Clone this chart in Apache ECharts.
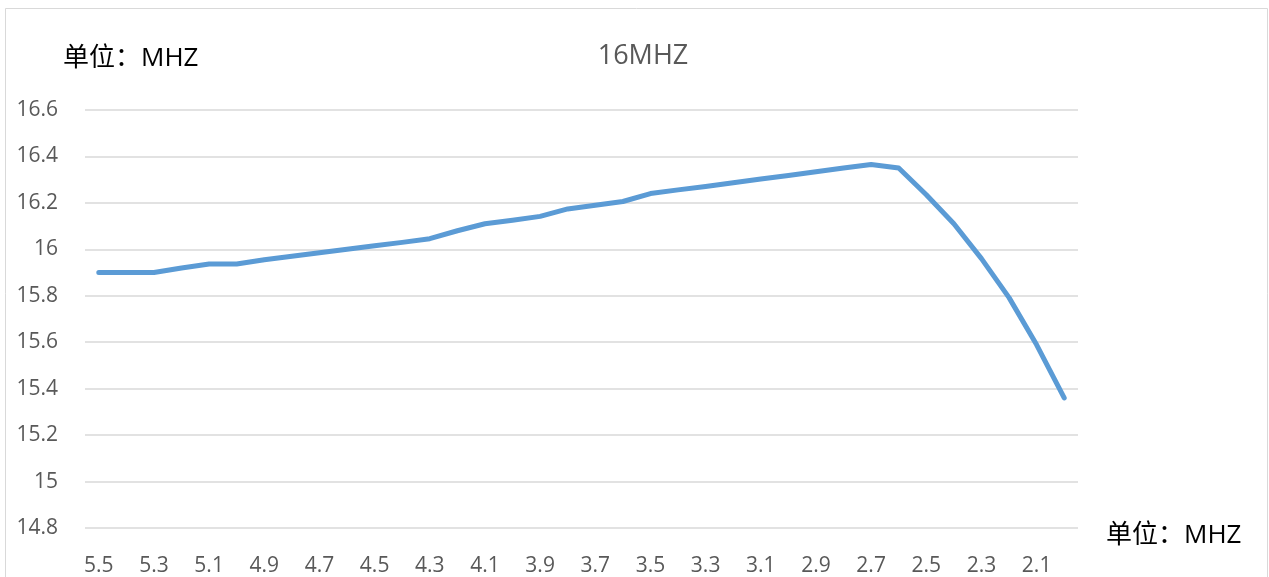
<!DOCTYPE html>
<html>
<head>
<meta charset="utf-8">
<script src="https://cdn.jsdelivr.net/npm/echarts@6/dist/echarts.min.js"></script>
<style>
html,body{margin:0;padding:0;background:#fff;}
#c{width:1269px;height:577px;}
</style>
</head>
<body>
<div id="c"></div>
<script>
const categories = ['5.5','5.4','5.3','5.2','5.1','5.0','4.9','4.8','4.7','4.6','4.5','4.4','4.3','4.2','4.1','4.0','3.9','3.8','3.7','3.6','3.5','3.4','3.3','3.2','3.1','3.0','2.9','2.8','2.7','2.6','2.5','2.4','2.3','2.2','2.1','2.0'];
const values = [15.90,15.90,15.90,15.92,15.937,15.937,15.955,15.97,15.985,16.0,16.015,16.03,16.046,16.08,16.11,16.125,16.142,16.174,16.19,16.206,16.24,16.256,16.271,16.287,16.303,16.318,16.334,16.35,16.365,16.35,16.235,16.11,15.96,15.792,15.589,15.36];
const yTicks = {min:14.8, max:16.6, interval:0.2};
const titleText = '16MHZ';
const unitText = '单位：MHZ';

const FONT = '"Open Sans", "Noto Sans CJK SC", sans-serif';
const chart = echarts.init(document.getElementById('c'), null, {renderer:'canvas'});
chart.setOption({
  animation:false,
  backgroundColor:'#fff',
  title:{
    text:titleText, left:638, top:38, textAlign:'center',
    textStyle:{fontFamily:FONT, fontSize:27, fontWeight:'normal', color:'#595959'}
  },
  graphic:[
    {type:'rect', shape:{x:5.5, y:8.5, width:1262, height:580}, style:{fill:'none', stroke:'#d9d9d9', lineWidth:1}, silent:true},
    {type:'text', left:63, top:46, style:{text:unitText, font:'26px ' + FONT, fill:'#000'}},
    {type:'text', left:1106, top:523, style:{text:unitText, font:'26px ' + FONT, fill:'#000'}}
  ],
  grid:{left:85, right:191, top:110, bottom:49, containLabel:false},
  xAxis:{
    type:'category', data:categories, boundaryGap:true,
    axisLine:{show:false}, axisTick:{show:false},
    axisLabel:{interval:1, margin:28, color:'#595959', fontSize:21, fontFamily:FONT},
    splitLine:{show:false}
  },
  yAxis:{
    type:'value', min:yTicks.min, max:yTicks.max, interval:yTicks.interval,
    axisLine:{show:false}, axisTick:{show:false},
    axisLabel:{margin:27, color:'#595959', fontSize:21, fontFamily:FONT, padding:[8,0,0,0],
      formatter:v=>String(+v.toFixed(1))},
    splitLine:{lineStyle:{color:'#d9d9d9', width:1.5}}
  },
  series:[{
    type:'line', data:values, symbol:'none', smooth:false,
    lineStyle:{color:'#5b9bd5', width:5, cap:'round', join:'round'}
  }]
});
</script>
</body>
</html>
